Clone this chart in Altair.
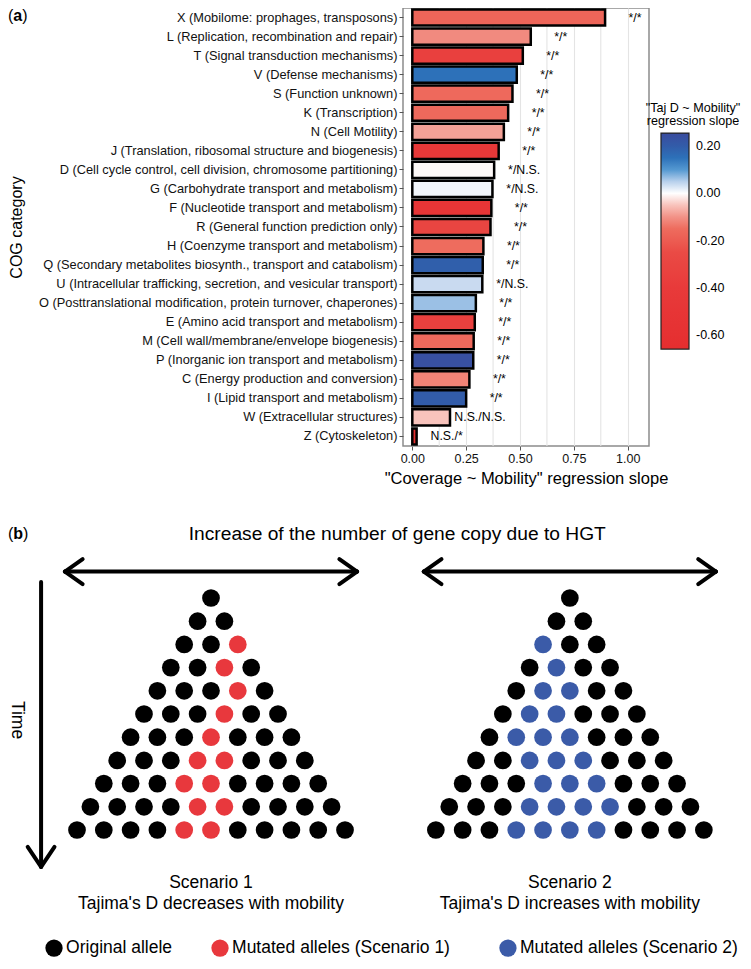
import altair as alt
import pandas as pd

# ---------------- panel (a) data ----------------
categories = [
    "X (Mobilome: prophages, transposons)",
    "L (Replication, recombination and repair)",
    "T (Signal transduction mechanisms)",
    "V (Defense mechanisms)",
    "S (Function unknown)",
    "K (Transcription)",
    "N (Cell Motility)",
    "J (Translation, ribosomal structure and biogenesis)",
    "D (Cell cycle control, cell division, chromosome partitioning)",
    "G (Carbohydrate transport and metabolism)",
    "F (Nucleotide transport and metabolism)",
    "R (General function prediction only)",
    "H (Coenzyme transport and metabolism)",
    "Q (Secondary metabolites biosynth., transport and catabolism)",
    "U (Intracellular trafficking, secretion, and vesicular transport)",
    "O (Posttranslational modification, protein turnover, chaperones)",
    "E (Amino acid transport and metabolism)",
    "M (Cell wall/membrane/envelope biogenesis)",
    "P (Inorganic ion transport and metabolism)",
    "C (Energy production and conversion)",
    "I (Lipid transport and metabolism)",
    "W (Extracellular structures)",
    "Z (Cytoskeleton)",
]
coverage_slope = [0.895, 0.55, 0.513, 0.485, 0.465, 0.445, 0.425, 0.401, 0.38, 0.372,
                  0.367, 0.363, 0.33, 0.327, 0.325, 0.295, 0.29, 0.285, 0.283, 0.265,
                  0.25, 0.175, 0.02]
tajd_slope = [-0.17, -0.11, -0.35, 0.15, -0.16, -0.16, -0.08, -0.45, -0.005, 0.01,
              -0.5, -0.3, -0.15, 0.19, 0.04, 0.065, -0.35, -0.16, 0.24, -0.12,
              0.2, -0.05, -0.62]
significance = ["*/*", "*/*", "*/*", "*/*", "*/*", "*/*", "*/*", "*/*", "*/N.S.", "*/N.S.",
                "*/*", "*/*", "*/*", "*/*", "*/N.S.", "*/*", "*/*", "*/*", "*/*", "*/*",
                "*/*", "N.S./N.S.", "N.S./*"]
x_major_ticks = [0.0, 0.25, 0.5, 0.75, 1.0]
x_minor_ticks = [0.125, 0.375, 0.625, 0.875]
legend_ticks = [0.2, 0.0, -0.2, -0.4, -0.6]
color_stops = [-0.66, -0.4, -0.25, -0.15, -0.08, -0.03, 0.0, 0.04, 0.08, 0.12, 0.18, 0.255]
color_values = ["#e52e2f", "#e83a3a", "#ea4b45", "#ee6c5e", "#f4a197", "#fad9d4", "#ffffff",
                "#c9daf0", "#7fb0de", "#2a7fc4", "#2f62ad", "#3a4c9e"]

# ---------------- panel (b) data ----------------
n_generations = 11
scenario1_mutated = [[], [], [2], [2], [3], [3], [3], [3, 4], [3, 4], [4, 5], [4, 5]]
scenario2_mutated = [[], [], [0], [1], [1, 2], [1, 2], [1, 2, 3], [2, 3, 4], [3, 4, 5],
                     [3, 4, 5, 6], [3, 4, 5, 6]]
scenario_titles = ["Scenario 1", "Scenario 2"]
scenario_subtitles = ["Tajima's D decreases with mobility", "Tajima's D increases with mobility"]
allele_labels = ["Original allele", "Mutated alleles (Scenario 1)", "Mutated alleles (Scenario 2)"]
allele_colors = ["#000000", "#e8383d", "#3b5ba8"]
header_text = "Increase of the number of gene copy due to HGT"

FONT = "Liberation Sans"

# ---------------- layout of the schematic (units: allele slots / generations) ----------------
tri_centers = [0.0, 13.39]
arrow_half = 5.45
arrow_v = -1.14
head_du, head_dv = 0.66, 0.54
time_u, time_top, time_tip = -6.34, -0.69, 11.59
time_head_du, time_head_dv = 0.5, 0.86

# ---------------- panel (a) ----------------
df_a = pd.DataFrame({"category": categories, "coverage": coverage_slope,
                     "tajd": tajd_slope, "sig": significance})
df_minor = pd.DataFrame({"v": x_minor_ticks})

xscale = alt.Scale(domain=[-0.0432, 1.0989], nice=False, zero=False)
yscale = alt.Scale(paddingInner=0.15, paddingOuter=0.075)

x_axis = alt.Axis(values=x_major_ticks, format=".2f", labelFlush=False,
                  title='"Coverage ~ Mobility" regression slope',
                  titleFontSize=16.5, titleFontWeight="normal", titleColor="black",
                  labelFontSize=12.5, labelColor="#111111", tickColor="#555555",
                  tickSize=4, domain=False, gridColor="#e4e4e4", gridWidth=1.1,
                  labelPadding=2, titlePadding=6)
y_axis = alt.Axis(title="COG category", titleFontSize=16, titleFontWeight="normal",
                  titleColor="black", titleX=-386.5, titleY=219, titleAngle=270,
                  titleBaseline="middle", titleAlign="center",
                  labelFontSize=12.8, labelColor="#111111", labelLimit=450,
                  tickColor="#555555", tickSize=4, domain=False,
                  gridColor="#e4e4e4", gridWidth=1.1, labelPadding=2)

Y = alt.Y("category:N", sort=categories, scale=yscale, axis=y_axis)

minor = alt.Chart(df_minor).mark_rule(color="#e4e4e4", strokeWidth=1.1).encode(
    x=alt.X("v:Q", scale=xscale, axis=x_axis)
)

bars = alt.Chart(df_a).mark_bar(stroke="black", strokeWidth=2.5).encode(
    x=alt.X("coverage:Q", scale=xscale, axis=x_axis),
    x2=alt.datum(0),
    y=Y,
    fill=alt.Fill("tajd:Q",
                  scale=alt.Scale(domain=color_stops, range=color_values, interpolate="rgb"),
                  legend=alt.Legend(title=['"Taj D ~ Mobility"', "regression slope"],
                                    orient="none", legendX=243, legendY=94,
                                    values=legend_ticks,
                                    labelExpr="replace(format(datum.value, '.2f'), '\u2212', '-')",
                                    direction="vertical",
                                    gradientLength=216, gradientThickness=28,
                                    gradientStrokeColor="#222222", gradientStrokeWidth=1.2,
                                    titleAnchor="middle", titleAlign="center",
                                    titleFontSize=12.6, titleFontWeight="normal",
                                    titleColor="black", titleLineHeight=12.5,
                                    titlePadding=6, labelFontSize=12.5,
                                    labelColor="black", labelOffset=7)),
)

sig_text = alt.Chart(df_a).mark_text(align="center", baseline="middle", dx=30,
                                     fontSize=12.3, color="black").encode(
    x=alt.X("coverage:Q", scale=xscale, axis=x_axis),
    y=Y,
    text="sig:N",
)

panel_a = alt.layer(minor, bars, sig_text)

# ---------------- panel (b) ----------------
circ_rows = []
for p, mutated in enumerate([scenario1_mutated, scenario2_mutated]):
    for r in range(n_generations):
        for i in range(r + 1):
            col = allele_colors[p + 1] if i in mutated[r] else allele_colors[0]
            circ_rows.append({"u": tri_centers[p] + i - r / 2.0, "v": float(r), "col": col})
df_circ = pd.DataFrame(circ_rows)

seg_rows = []
for c in tri_centers:
    a, b = c - arrow_half, c + arrow_half
    seg_rows += [
        {"u": a, "v": arrow_v, "u2": b, "v2": arrow_v},
        {"u": a, "v": arrow_v, "u2": a + head_du, "v2": arrow_v - head_dv},
        {"u": a, "v": arrow_v, "u2": a + head_du, "v2": arrow_v + head_dv},
        {"u": b, "v": arrow_v, "u2": b - head_du, "v2": arrow_v - head_dv},
        {"u": b, "v": arrow_v, "u2": b - head_du, "v2": arrow_v + head_dv},
    ]
seg_rows += [
    {"u": time_u, "v": time_top, "u2": time_u, "v2": time_tip},
    {"u": time_u, "v": time_tip, "u2": time_u - time_head_du, "v2": time_tip - time_head_dv},
    {"u": time_u, "v": time_tip, "u2": time_u + time_head_du, "v2": time_tip - time_head_dv},
]
df_seg = pd.DataFrame(seg_rows)

center_texts = [
    {"t": header_text, "u": 6.95, "v": -2.76, "fs": 19.2, "ang": 0},
    {"t": "Time", "u": -7.24, "v": 5.26, "fs": 17.5, "ang": 90},
]
for k in range(2):
    center_texts.append({"t": scenario_titles[k], "u": tri_centers[k], "v": 12.28, "fs": 17.5, "ang": 0})
    center_texts.append({"t": scenario_subtitles[k], "u": tri_centers[k], "v": 13.19, "fs": 17.5, "ang": 0})
df_ctext = pd.DataFrame(center_texts)

legend_u = [-5.858, 0.336, 11.08]
legend_v = 15.09
df_leg = pd.DataFrame({"u": legend_u, "v": [legend_v] * 3, "col": allele_colors,
                       "t": allele_labels, "tu": [x + 0.45 for x in legend_u]})

df_paren = pd.DataFrame({"t": ["(", ")", "(", ")"],
                         "u": [-7.575, -7.044, -7.575, -7.011],
                         "v": [-25.086, -25.086, -2.76, -2.76]})
df_letter = pd.DataFrame({"t": ["a", "b"], "u": [-7.376, -7.376], "v": [-25.086, -2.76]})

dx_scale = alt.Scale(domain=[7.1642, 16.3433], nice=False, zero=False)
dy_scale = alt.Scale(domain=[-25.431, -6.552], nice=False, zero=False, reverse=True)
U = alt.X("u:Q", scale=dx_scale, axis=None)
V = alt.Y("v:Q", scale=dy_scale, axis=None)

segs = alt.Chart(df_seg).mark_rule(strokeWidth=4, color="black", strokeCap="round").encode(
    x=U, y=V, x2=alt.X2("u2:Q"), y2=alt.Y2("v2:Q"))
circles = alt.Chart(df_circ).mark_circle(size=314, opacity=1).encode(
    x=U, y=V, color=alt.Color("col:N", scale=None, legend=None))
ctexts = alt.Chart(df_ctext).mark_text(align="center", baseline="middle", color="black",
                                       font=FONT).encode(
    x=U, y=V, text="t:N", size=alt.Size("fs:Q", scale=None, legend=None),
    angle=alt.Angle("ang:Q", scale=None, legend=None))
leg_dots = alt.Chart(df_leg).mark_circle(size=300, opacity=1).encode(
    x=U, y=V, color=alt.Color("col:N", scale=None, legend=None))
leg_texts = alt.Chart(df_leg).mark_text(align="left", baseline="middle", color="black",
                                        fontSize=17.5, font=FONT).encode(
    x=alt.X("tu:Q", scale=dx_scale, axis=None), y=V, text="t:N")
parens = alt.Chart(df_paren).mark_text(align="left", baseline="middle", color="black",
                                       fontSize=16, font=FONT).encode(x=U, y=V, text="t:N")
letters = alt.Chart(df_letter).mark_text(align="left", baseline="middle", color="black",
                                         fontSize=16, fontWeight="bold", font=FONT).encode(
    x=U, y=V, text="t:N")

panel_b = alt.layer(segs, circles, ctexts, leg_dots, leg_texts, parens, letters)

chart = alt.layer(panel_a, panel_b).resolve_scale(
    x="independent", y="independent"
).properties(
    width=246, height=438,
    autosize=alt.AutoSizeParams(type="none"),
    padding={"left": 395, "top": 0, "right": 94, "bottom": 515},
).configure(font=FONT).configure_view(stroke="#8c8c8c", strokeWidth=1.5)

chart.save("out.html", embed_options={"renderer": "svg", "actions": False})
